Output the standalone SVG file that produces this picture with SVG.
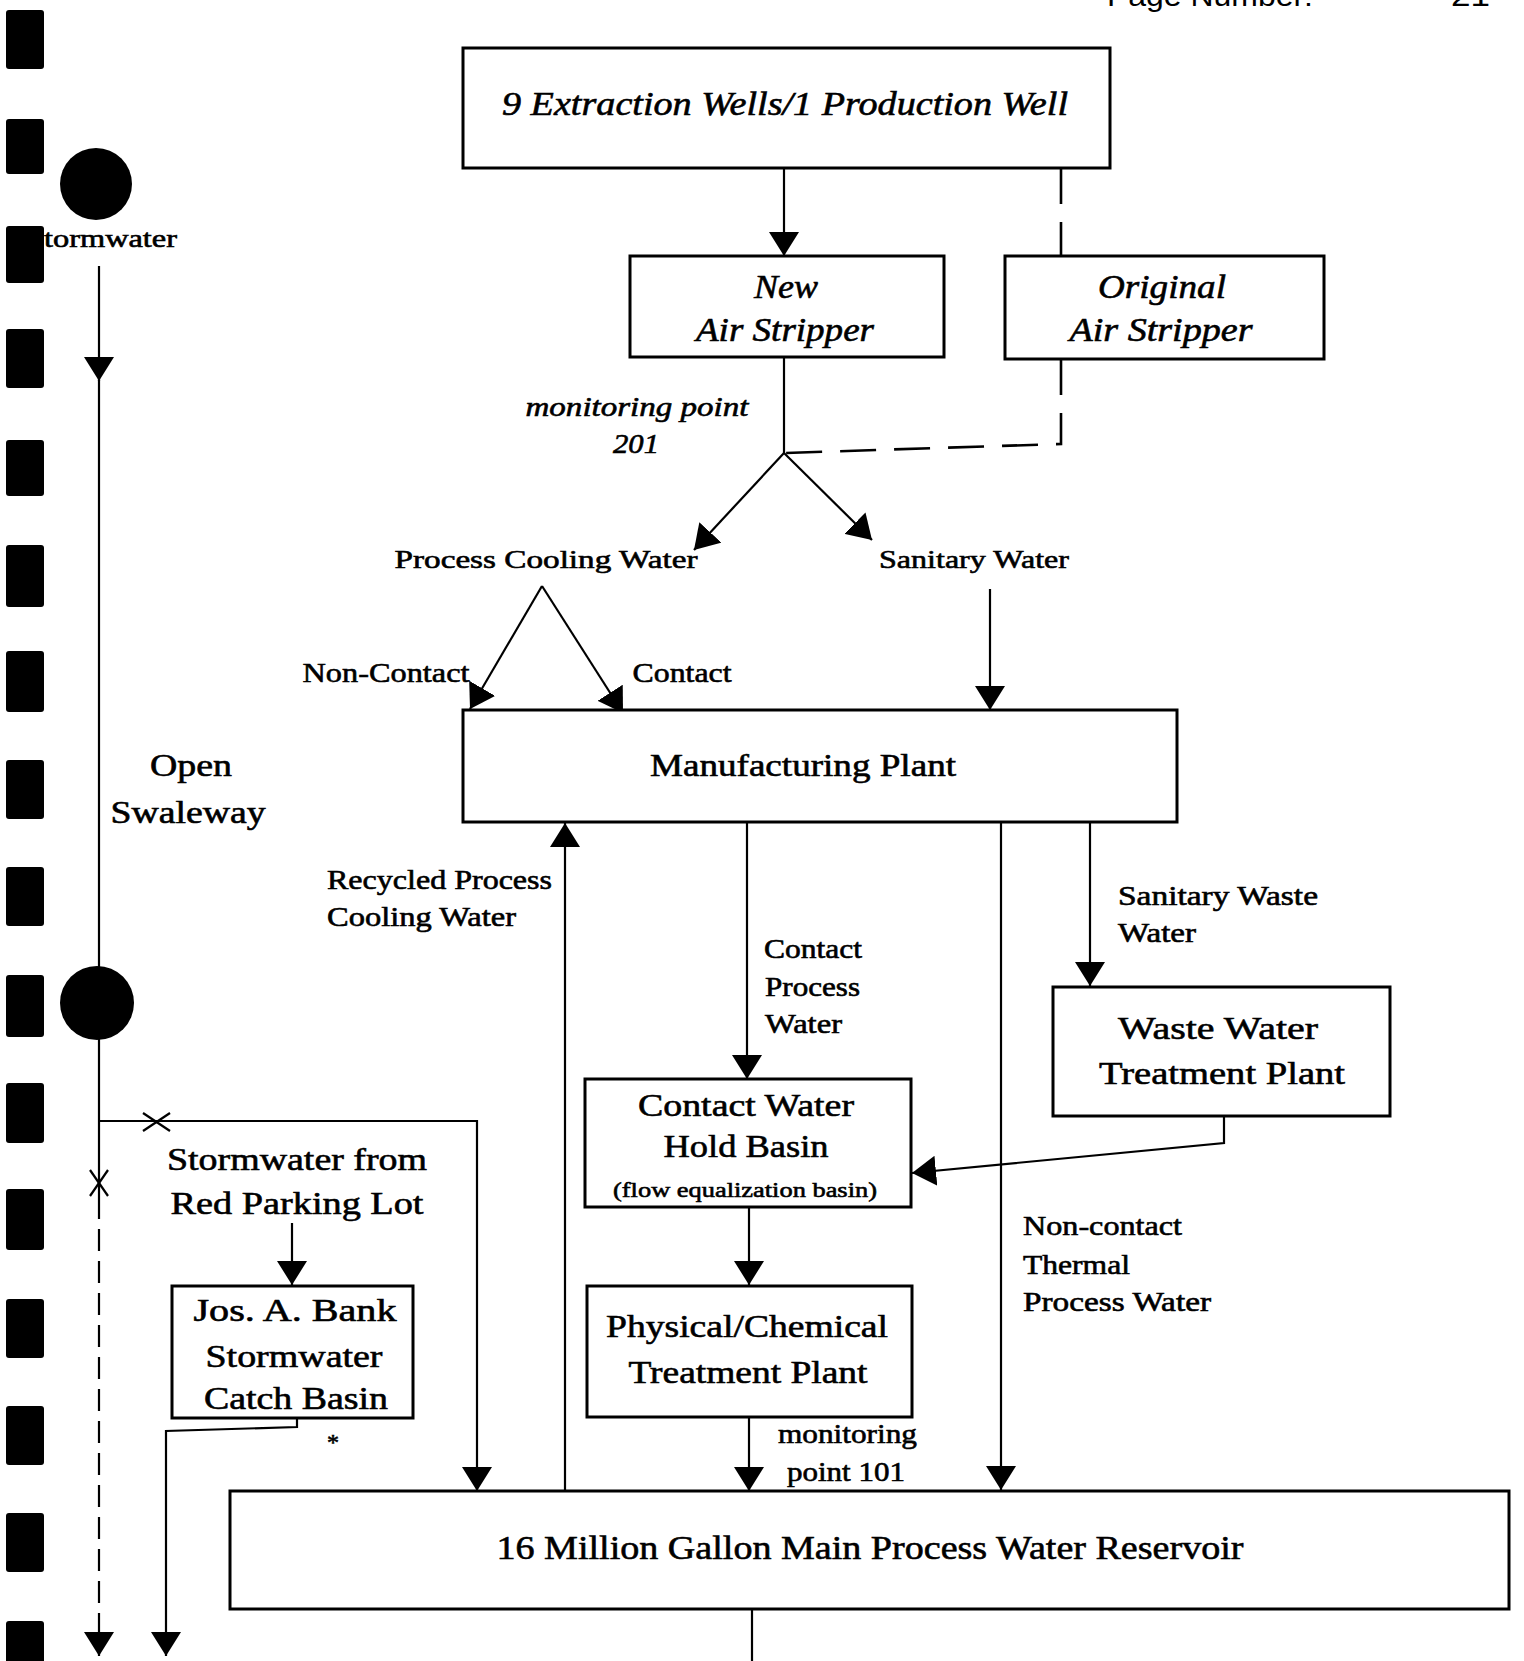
<svg xmlns="http://www.w3.org/2000/svg" width="1524" height="1661" viewBox="0 0 1524 1661">
<defs>
<marker id="ah" viewBox="0 0 24 30" refX="24" refY="15" markerWidth="24" markerHeight="30" markerUnits="userSpaceOnUse" orient="auto"><path d="M0,0 L24,15 L0,30 Z" fill="#000"/></marker>
<style>
.box{fill:#fff;stroke:#000;stroke-width:3}
.ln{fill:none;stroke:#000;stroke-width:2.2}
.dash{fill:none;stroke:#000;stroke-width:2.6;stroke-dasharray:36 18}
.t{font-family:"Liberation Serif","Times New Roman",serif;fill:#000;stroke:#000;stroke-width:0.6}
.i{font-style:italic}
.c{text-anchor:middle}
.blob{fill:#000}
</style>
</defs>
<rect width="1524" height="1661" fill="#fff"/>
<g id="margin">
<rect class="blob" x="6" y="10" width="38" height="59" rx="3"/>
<rect class="blob" x="6" y="119" width="38" height="55" rx="3"/>
<rect class="blob" x="6" y="226" width="38" height="57" rx="3"/>
<rect class="blob" x="6" y="329" width="38" height="59" rx="3"/>
<rect class="blob" x="6" y="440" width="38" height="56" rx="3"/>
<rect class="blob" x="6" y="545" width="38" height="62" rx="3"/>
<rect class="blob" x="6" y="651" width="38" height="61" rx="3"/>
<rect class="blob" x="6" y="760" width="38" height="59" rx="3"/>
<rect class="blob" x="6" y="867" width="38" height="59" rx="3"/>
<rect class="blob" x="6" y="975" width="38" height="62" rx="3"/>
<rect class="blob" x="6" y="1083" width="38" height="60" rx="3"/>
<rect class="blob" x="6" y="1189" width="38" height="61" rx="3"/>
<rect class="blob" x="6" y="1299" width="38" height="59" rx="3"/>
<rect class="blob" x="6" y="1406" width="38" height="59" rx="3"/>
<rect class="blob" x="6" y="1513" width="38" height="59" rx="3"/>
<rect class="blob" x="6" y="1621" width="38" height="45" rx="3"/>
<text x="1107" y="6" font-family="Liberation Sans, Arial, sans-serif" font-size="30" textLength="206" lengthAdjust="spacingAndGlyphs">Page Number:</text>
<text x="1451" y="6" font-family="Liberation Sans, Arial, sans-serif" font-size="30" textLength="39" lengthAdjust="spacingAndGlyphs">21</text>
</g>
<g id="connectors">
<line class="ln" x1="784" y1="168" x2="784" y2="256" marker-end="url(#ah)"/>
<line class="dash" x1="1061" y1="168" x2="1061" y2="256"/>
<line class="ln" x1="784" y1="357" x2="784" y2="453"/>
<polyline class="dash" points="1061,359 1061,444 784,453"/>
<line class="ln" x1="784" y1="453" x2="694" y2="550" marker-end="url(#ah)"/>
<line class="ln" x1="784" y1="453" x2="872" y2="540" marker-end="url(#ah)"/>
<line class="ln" x1="542" y1="586" x2="470" y2="709" marker-end="url(#ah)"/>
<line class="ln" x1="542" y1="586" x2="623" y2="713" marker-end="url(#ah)"/>
<line class="ln" x1="990" y1="589" x2="990" y2="710" marker-end="url(#ah)"/>
<line class="ln" x1="747" y1="822" x2="747" y2="1079" marker-end="url(#ah)"/>
<line class="ln" x1="1001" y1="822" x2="1001" y2="1490" marker-end="url(#ah)"/>
<line class="ln" x1="1090" y1="822" x2="1090" y2="986" marker-end="url(#ah)"/>
<polyline class="ln" points="1224,1116 1224,1143 912,1173" marker-end="url(#ah)"/>
<line class="ln" x1="749" y1="1207" x2="749" y2="1285" marker-end="url(#ah)"/>
<line class="ln" x1="749" y1="1417" x2="749" y2="1491" marker-end="url(#ah)"/>
<line class="ln" x1="565" y1="1491" x2="565" y2="823" marker-end="url(#ah)"/>
<line class="ln" x1="752" y1="1610" x2="752" y2="1661"/>
<line class="ln" x1="99" y1="266" x2="99" y2="381" marker-end="url(#ah)"/>
<line class="ln" x1="99" y1="380" x2="99" y2="1121"/>
<polyline class="ln" points="99,1121 477,1121 477,1491" marker-end="url(#ah)"/>
<line class="ln" x1="143" y1="1113" x2="170" y2="1131"/>
<line class="ln" x1="143" y1="1131" x2="170" y2="1113"/>
<line class="ln" x1="99" y1="1121" x2="99" y2="1197"/>
<line class="ln" x1="90" y1="1170" x2="108" y2="1196"/>
<line class="ln" x1="108" y1="1170" x2="90" y2="1196"/>
<line class="ln" x1="99" y1="1197" x2="99" y2="1656" stroke-dasharray="22 10" marker-end="url(#ah)"/>
<line class="ln" x1="292" y1="1223" x2="292" y2="1285" marker-end="url(#ah)"/>
<polyline class="ln" points="297,1418 297,1427 166,1431 166,1656" marker-end="url(#ah)"/>
</g>
<g id="storm-circle-1"><circle cx="96" cy="184" r="36"/><text class="t" x="44" y="247" font-size="25" textLength="133" lengthAdjust="spacingAndGlyphs">tormwater</text></g>
<g id="storm-circle-2"><circle cx="97" cy="1003" r="37"/></g>
<g id="swaleway"><text class="t c" x="191" y="776" font-size="31" textLength="82" lengthAdjust="spacingAndGlyphs">Open</text><text class="t c" x="188" y="823" font-size="31" textLength="155" lengthAdjust="spacingAndGlyphs">Swaleway</text></g>
<g id="wells"><rect class="box" x="463" y="48" width="647" height="120"/><text class="t i c" x="785" y="115" font-size="34" textLength="566" lengthAdjust="spacingAndGlyphs">9 Extraction Wells/1 Production Well</text></g>
<g id="new-air-stripper"><rect class="box" x="630" y="256" width="314" height="101"/><text class="t i c" x="786" y="298" font-size="34" textLength="64" lengthAdjust="spacingAndGlyphs">New</text><text class="t i c" x="785" y="341" font-size="34" textLength="178" lengthAdjust="spacingAndGlyphs">Air Stripper</text></g>
<g id="original-air-stripper"><rect class="box" x="1005" y="256" width="319" height="103"/><text class="t i c" x="1162" y="298" font-size="34" textLength="128" lengthAdjust="spacingAndGlyphs">Original</text><text class="t i c" x="1161" y="341" font-size="34" textLength="183" lengthAdjust="spacingAndGlyphs">Air Stripper</text></g>
<g id="monitoring-201"><text class="t i c" x="637" y="416" font-size="28" textLength="223" lengthAdjust="spacingAndGlyphs">monitoring point</text><text class="t i c" x="636" y="453" font-size="28" textLength="46" lengthAdjust="spacingAndGlyphs">201</text></g>
<g id="process-cooling-water"><text class="t c" x="546" y="568" font-size="26" textLength="303" lengthAdjust="spacingAndGlyphs">Process Cooling Water</text></g>
<g id="sanitary-water"><text class="t c" x="974" y="568" font-size="26" textLength="190" lengthAdjust="spacingAndGlyphs">Sanitary Water</text></g>
<g id="labels-contact"><text class="t c" x="386" y="682" font-size="28" textLength="167" lengthAdjust="spacingAndGlyphs">Non-Contact</text><text class="t c" x="682" y="682" font-size="28" textLength="99" lengthAdjust="spacingAndGlyphs">Contact</text></g>
<g id="manufacturing-plant"><rect class="box" x="463" y="710" width="714" height="112"/><text class="t c" x="803" y="776" font-size="31" textLength="306" lengthAdjust="spacingAndGlyphs">Manufacturing Plant</text></g>
<g id="recycled-label"><text class="t" x="327" y="889" font-size="27" textLength="225" lengthAdjust="spacingAndGlyphs">Recycled Process</text><text class="t" x="327" y="926" font-size="27" textLength="189" lengthAdjust="spacingAndGlyphs">Cooling Water</text></g>
<g id="contact-process-label"><text class="t" x="764" y="958" font-size="27" textLength="98" lengthAdjust="spacingAndGlyphs">Contact</text><text class="t" x="765" y="996" font-size="27" textLength="95" lengthAdjust="spacingAndGlyphs">Process</text><text class="t" x="765" y="1033" font-size="27" textLength="77" lengthAdjust="spacingAndGlyphs">Water</text></g>
<g id="sanitary-waste-label"><text class="t" x="1118" y="905" font-size="27" textLength="200" lengthAdjust="spacingAndGlyphs">Sanitary Waste</text><text class="t" x="1118" y="942" font-size="27" textLength="78" lengthAdjust="spacingAndGlyphs">Water</text></g>
<g id="wwtp"><rect class="box" x="1053" y="987" width="337" height="129"/><text class="t c" x="1218" y="1039" font-size="32" textLength="200" lengthAdjust="spacingAndGlyphs">Waste Water</text><text class="t c" x="1222" y="1084" font-size="32" textLength="246" lengthAdjust="spacingAndGlyphs">Treatment Plant</text></g>
<g id="contact-hold-basin"><rect class="box" x="585" y="1079" width="326" height="128"/><text class="t c" x="746" y="1116" font-size="32" textLength="216" lengthAdjust="spacingAndGlyphs">Contact Water</text><text class="t c" x="746" y="1157" font-size="32" textLength="165" lengthAdjust="spacingAndGlyphs">Hold Basin</text><text class="t c" x="745" y="1197" font-size="22" textLength="264" lengthAdjust="spacingAndGlyphs">(flow equalization basin)</text></g>
<g id="noncontact-label"><text class="t" x="1023" y="1235" font-size="27" textLength="159" lengthAdjust="spacingAndGlyphs">Non-contact</text><text class="t" x="1023" y="1274" font-size="27" textLength="107" lengthAdjust="spacingAndGlyphs">Thermal</text><text class="t" x="1023" y="1311" font-size="27" textLength="188" lengthAdjust="spacingAndGlyphs">Process Water</text></g>
<g id="phys-chem"><rect class="box" x="587" y="1286" width="325" height="131"/><text class="t c" x="747" y="1337" font-size="32" textLength="282" lengthAdjust="spacingAndGlyphs">Physical/Chemical</text><text class="t c" x="748" y="1383" font-size="32" textLength="239" lengthAdjust="spacingAndGlyphs">Treatment Plant</text></g>
<g id="monitoring-101"><text class="t" x="778" y="1443" font-size="27" textLength="139" lengthAdjust="spacingAndGlyphs">monitoring</text><text class="t" x="787" y="1481" font-size="27" textLength="118" lengthAdjust="spacingAndGlyphs">point 101</text></g>
<g id="reservoir"><rect class="box" x="230" y="1491" width="1279" height="118"/><text class="t c" x="870" y="1559" font-size="34" textLength="747" lengthAdjust="spacingAndGlyphs">16 Million Gallon Main Process Water Reservoir</text></g>
<g id="red-parking-lot"><text class="t c" x="297" y="1170" font-size="32" textLength="260" lengthAdjust="spacingAndGlyphs">Stormwater from</text><text class="t c" x="297" y="1214" font-size="32" textLength="253" lengthAdjust="spacingAndGlyphs">Red Parking Lot</text></g>
<g id="catch-basin"><rect class="box" x="172" y="1286" width="241" height="132"/><text class="t c" x="295" y="1321" font-size="31" textLength="203" lengthAdjust="spacingAndGlyphs">Jos. A. Bank</text><text class="t c" x="294" y="1367" font-size="31" textLength="177" lengthAdjust="spacingAndGlyphs">Stormwater</text><text class="t c" x="296" y="1409" font-size="31" textLength="184" lengthAdjust="spacingAndGlyphs">Catch Basin</text><text class="t c" x="333" y="1450" font-size="24">*</text></g>
</svg>
